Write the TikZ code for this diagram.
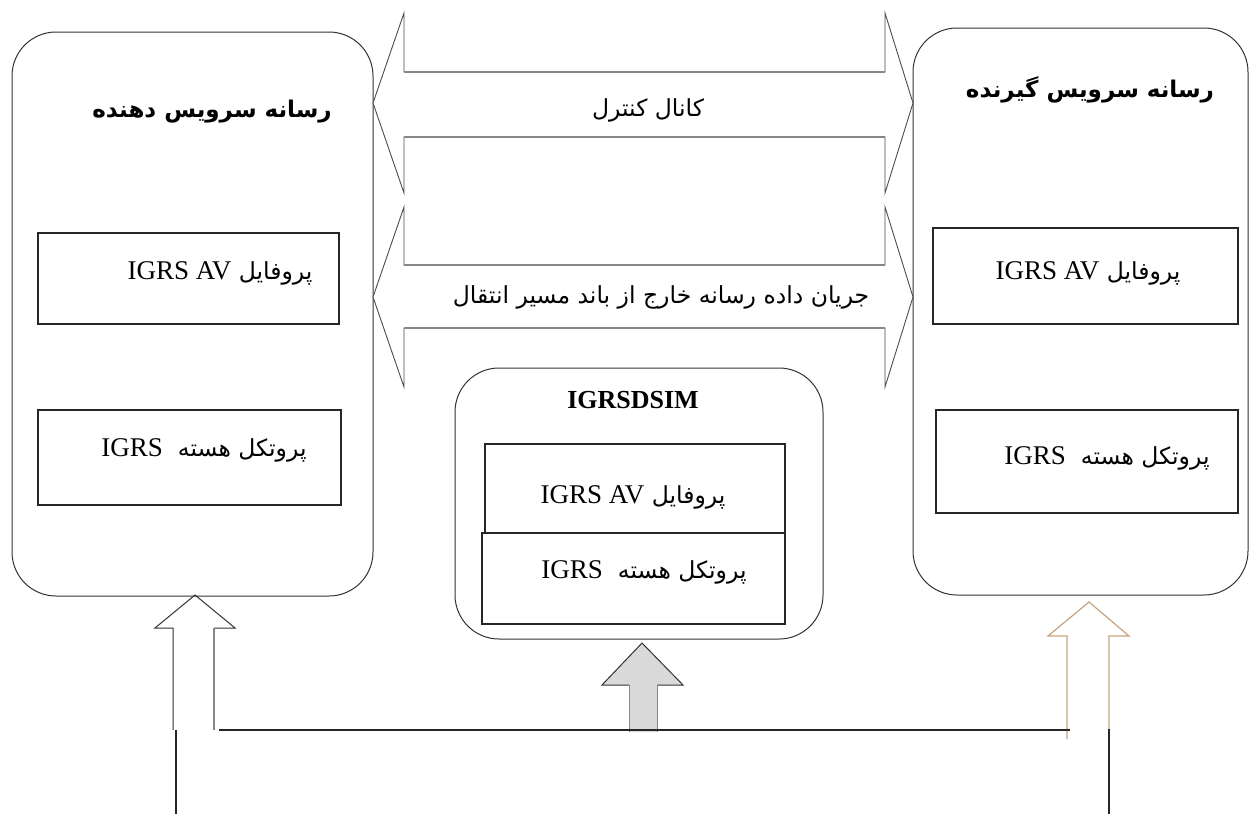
\documentclass[tikz,border=0pt]{standalone}
\usepackage{fontspec}
\setmainfont{Liberation Serif}
\newfontfamily\arfont[Script=Arabic]{DejaVu Sans}
\newfontfamily\latf[Scale=1.15]{Liberation Serif}
\TeXXeTstate=1
\definecolor{tanline}{RGB}{196,164,124}
\definecolor{fillgray}{RGB}{217,217,217}
\definecolor{shaftgray}{RGB}{135,135,135}
\newcommand{\ar}[1]{{\arfont\beginR #1\endR}}
\newcommand{\av}{{\arfont\beginR پروفایل \beginL{\latf IGRS AV}\endL\endR}}
\newcommand{\core}{{\arfont\beginR پروتکل هسته \ \beginL{\latf IGRS}\endL\endR}}
\begin{document}
\begin{tikzpicture}[x=1pt,y=-1pt,
  bigbox/.style={draw=black!80, line width=1pt, rounded corners=44pt, inner sep=0pt},
  layerbox/.style={draw=black!85, line width=1.3pt, inner sep=0pt},
  lbl/.style={inner sep=0pt, font=\fontsize{23.5}{28}\selectfont},
  ttl/.style={inner sep=0pt, font=\fontsize{23}{27}\selectfont\bfseries},
  blockarrow/.style={draw=black!70, line width=0.9pt, fill=white},
  shaft/.style={draw=shaftgray, line width=1.4pt},
  wire/.style={draw=black!85, line width=1.4pt}]
\useasboundingbox (0,0) rectangle (1251,814);

% big rounded boxes
\node[bigbox, minimum width=361pt, minimum height=564pt] (lbox) at (192.5,314) {};
\node[bigbox, minimum width=335pt, minimum height=567pt] (rbox) at (1080.5,311.5) {};
\node[bigbox, minimum width=368pt, minimum height=271pt] (mbox) at (639,503.5) {};

% layer boxes
\node[layerbox, minimum width=301pt, minimum height=91pt] (lav) at (188.5,278.5) {};
\node[layerbox, minimum width=303pt, minimum height=95pt] (lcore) at (189.5,457.5) {};
\node[layerbox, minimum width=305pt, minimum height=96pt] (rav) at (1085.5,276) {};
\node[layerbox, minimum width=302pt, minimum height=103pt] (rcore) at (1087,461.5) {};
\node[layerbox, minimum width=300pt, minimum height=89pt] (mav) at (635,488.5) {};
\node[layerbox, minimum width=303pt, minimum height=91pt] (mcore) at (633.5,578.5) {};

% texts
\node[ttl] (ltitle) at (212,112) {\ar{رسانه سرویس دهنده}};
\node[ttl] (rtitle) at (1090,90) {\ar{رسانه سرویس گیرنده}};
\node[inner sep=0pt, font=\fontsize{26}{30}\selectfont\bfseries] (mtitle) at (633,400) {IGRSDSIM};
\node[lbl] (lavt) at (220,273) {\av};
\node[lbl] (lcoret) at (204,450) {\core};
\node[lbl] (ravt) at (1088,273) {\av};
\node[lbl] (rcoret) at (1107,458) {\core};
\node[lbl] (mavt) at (633,497) {\av};
\node[lbl] (mcoret) at (644,572) {\core};

% double block arrows
\draw[blockarrow] (373,103) -- (404,13) -- (404,72) -- (885,72) -- (885,13) -- (913,103)
  -- (885,193) -- (885,137) -- (404,137) -- (404,193) -- cycle;
\draw[shaft] (404,72) -- (885,72) (404,137) -- (885,137);
\draw[blockarrow] (373,297) -- (404,207) -- (404,265) -- (885,265) -- (885,207) -- (913,297)
  -- (885,387) -- (885,328) -- (404,328) -- (404,387) -- cycle;
\draw[shaft] (404,265) -- (885,265) (404,328) -- (885,328);
\node[lbl] (ctrl) at (648,110) {\ar{کانال کنترل}};
\node[lbl] (flow) at (661,297) {\ar{جریان داده رسانه خارج از باند مسیر انتقال}};

% bottom arrows
\coordinate (la) at (195,595);
\draw[draw=black!80, line width=1pt] (173,730) -- (173,628) -- (155,628) -- (la) -- (235,628) -- (214,628);
\draw[shaft, line width=1.2pt] (214,628) -- (214,730);
\coordinate (ma) at (642,643);
\fill[fillgray] (629,732) -- (629,685) -- (602,685) -- (ma) -- (683,685) -- (657,685) -- (657,732) -- cycle;
\draw[draw=black!80, line width=1pt] (629,685) -- (602,685) -- (ma) -- (683,685) -- (657,685);
\draw[shaft, line width=1pt] (629,685) -- (629,732) (657,685) -- (657,732);
\coordinate (ra) at (1089,602);
\draw[draw=tanline, line width=1.2pt] (1067,739) -- (1067,636) -- (1048,636) -- (ra) -- (1129,636) -- (1109,636) -- (1109,739);

% wires
\coordinate (w1) at (219,730);
\coordinate (w2) at (1070,730);
\coordinate (lb) at (176,730);
\coordinate (lbe) at (176,814);
\coordinate (rb) at (1109,729);
\coordinate (rbe) at (1109,814);
\draw[wire] (w1) -- (w2);
\draw[wire, line width=1.1pt] (lb) -- (lbe);
\draw[wire, line width=1.1pt] (rb) -- (rbe);
\end{tikzpicture}
\end{document}
